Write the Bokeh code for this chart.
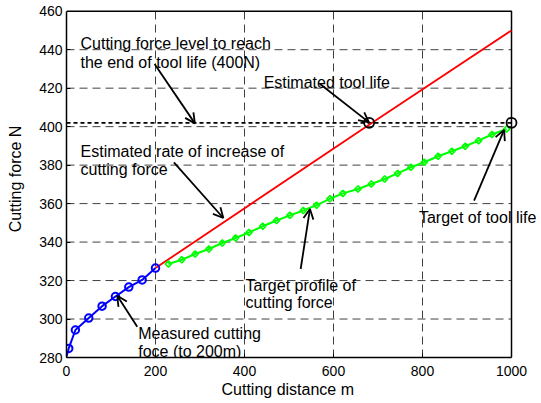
import math
from bokeh.plotting import figure
from bokeh.models import Range1d, FixedTicker, Arrow, OpenHead, Label, Title
from bokeh.embed import file_html
from bokeh.resources import INLINE

# ---------------- data ----------------
x_ticks = [0, 200, 400, 600, 800, 1000]
y_ticks = [280, 300, 320, 340, 360, 380, 400, 420, 440, 460]

# measured cutting force (to 200 m)
x_meas = [0, 5, 20, 50, 80, 110, 140, 170, 200]
f_meas = [280.5, 284.7, 294.3, 300.5, 306.7, 311.7, 316.6, 320.3, 326.5]

# estimated rate of increase
x_est = [200, 680, 1000]
f_est = [326.5, 401, 450]

# target profile of cutting force
x_target = [229, 259, 289, 320, 350, 380, 410, 441, 472, 502, 532, 562, 592,
            621, 655, 685, 715, 744, 774, 804, 835, 866, 896, 926, 956, 989]
f_target = [328.6, 330.8, 333.8, 336.4, 339.5, 342.1, 345.0, 348.2, 351.2,
            353.9, 356.4, 359.2, 362.5, 365.3, 367.6, 370.2, 372.8, 375.7,
            378.9, 381.5, 384.6, 387.2, 389.8, 392.7, 395.9, 398.8]

# tool-life level and points
life_level = 402
x_life = [680, 1000]
f_life = [402, 402]

X_MIN, X_MAX = x_ticks[0], x_ticks[-1]
Y_MIN, Y_MAX = y_ticks[0], y_ticks[-1]

FONT = "Liberation Sans"
FS = "16px"

# frame extended to the right/top so that marks and texts outside the
# axes box are not clipped; the box itself is drawn explicitly
p = figure(width=541, height=403, output_backend="svg", toolbar_location=None,
           x_range=Range1d(X_MIN, 1067.4), y_range=Range1d(Y_MIN, 465.57),
           min_border_left=66, min_border_right=0, min_border_top=0,
           min_border_bottom=46, background_fill_color="white",
           border_fill_color="white")
p.outline_line_color = None
p.xgrid.visible = False
p.ygrid.visible = False

for ax in (p.xaxis, p.yaxis):
    ax.major_label_text_font = FONT
    ax.major_label_text_font_size = "14px"
    ax.major_label_text_color = "black"
    ax.axis_label_text_font = FONT
    ax.axis_label_text_font_size = FS
    ax.axis_label_text_font_style = "normal"
    ax.axis_label_text_color = "black"
    ax.axis_line_color = "black"
    ax.axis_line_width = 1.5
    ax.major_tick_in = 4
    ax.major_tick_out = 0
    ax.minor_tick_in = 0
    ax.minor_tick_out = 0
    ax.major_tick_line_color = "black"

p.xaxis.ticker = FixedTicker(ticks=x_ticks)
p.yaxis.ticker = FixedTicker(ticks=y_ticks)
p.xaxis.bounds = (X_MIN, X_MAX)
p.yaxis.bounds = (Y_MIN, Y_MAX)
p.yaxis.axis_label = "Cutting force N"
p.xaxis.major_label_standoff = 8
p.yaxis.major_label_standoff = 4
p.yaxis.axis_label_standoff = 12

p.add_layout(Title(text="Cutting distance m", align="left", offset=155,
                   text_font=FONT, text_font_size=FS, text_font_style="normal",
                   text_color="black", standoff=0), "below")

# grid (dashed)
gx = x_ticks[1:-1]
gy = y_ticks[1:-1]
p.segment(x0=gx, y0=[Y_MIN] * len(gx), x1=gx, y1=[Y_MAX] * len(gx),
          line_color="#404040", line_width=1, line_dash="8 5")
p.segment(x0=[X_MIN] * len(gy), y0=gy, x1=[X_MAX] * len(gy), y1=gy,
          line_color="#404040", line_width=1, line_dash="8 5")

# top and right sides of the axes box
p.line([X_MIN, X_MAX, X_MAX], [Y_MAX, Y_MAX, Y_MIN], line_color="black",
       line_width=1.5)

# tool-life level line
p.line([X_MIN, X_MAX], [life_level, life_level], line_color="black",
       line_width=1.8, line_dash="4 3")

# estimated rate (red)
p.line(x_est, f_est, line_color="#ff0000", line_width=1.8)

# target profile (green)
p.line(x_target, f_target, line_color="#00ff00", line_width=2)
p.scatter(x_target, f_target, marker="square", angle=math.pi / 4, size=4.5,
          line_color="#00ff00", line_width=1.6, fill_color=None)

# measured (blue)
p.line(x_meas, f_meas, line_color="#0000ff", line_width=2)
p.scatter(x_meas[1:], f_meas[1:], marker="circle", size=7.5,
          line_color="#0000ff", line_width=2, fill_color=None)

# tool-life points
p.scatter(x_life, f_life, marker="circle", size=10, line_color="black",
          line_width=1.8, fill_color=None)

# annotations (text)
labels = [
    ("Cutting force level to reach", 31.5, 443.0),
    ("the end of tool life (400N)", 31.5, 433.5),
    ("Estimated tool life", 443.0, 423.1),
    ("Estimated rate of increase of", 31.5, 387.2),
    ("cutting force", 31.5, 377.9),
    ("Target of tool life", 792.0, 352.9),
    ("Target profile of", 402.5, 317.3),
    ("cutting force", 402.5, 308.6),
    ("Measured cutting", 161.2, 292.5),
    ("foce (to 200m)", 161.2, 283.1),
]
for t, lx, ly in labels:
    p.add_layout(Label(x=lx, y=ly, text=t, text_font=FONT,
                       text_font_size=FS, text_color="black",
                       text_align="left", text_baseline="alphabetic"))

arrows = [
    (197.9, 432.6, 288.5, 401.7),
    (569.7, 422.2, 679.8, 402.2),
    (241.3, 381.4, 352.4, 352.5),
    (915.9, 361.5, 983.4, 398.3),
    (526.2, 326.0, 547.1, 357.2),
    (159.0, 296.0, 114.0, 312.1),
]
for xs, ys, xe, ye in arrows:
    p.add_layout(Arrow(end=OpenHead(size=10, line_width=1.8, line_color="black"),
                       x_start=xs, y_start=ys, x_end=xe, y_end=ye,
                       line_color="black", line_width=1.8))

open("out.html", "w").write(file_html(p, INLINE))
